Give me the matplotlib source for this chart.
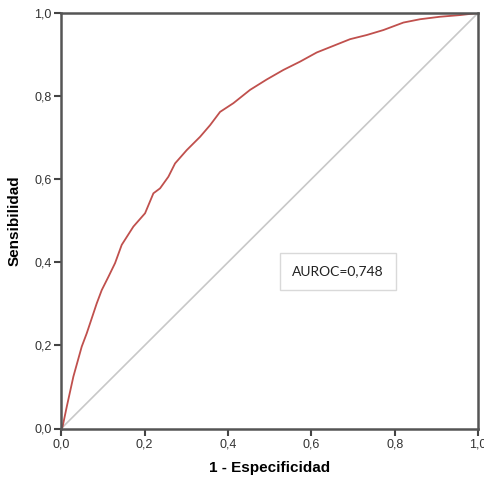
import numpy as np
import matplotlib.pyplot as plt

# ROC curve
fpr = [0.0, 0.003, 0.013, 0.029, 0.049, 0.061, 0.077, 0.085, 0.097, 0.113, 0.129,
       0.145, 0.173, 0.201, 0.221, 0.237, 0.257, 0.273, 0.301, 0.333, 0.357,
       0.381, 0.413, 0.453, 0.493, 0.533, 0.573, 0.613, 0.653, 0.693, 0.733,
       0.773, 0.805, 0.821, 0.861, 0.909, 0.957, 1.0]
tpr = [0.0, 0.004, 0.052, 0.125, 0.197, 0.229, 0.277, 0.301, 0.333, 0.365, 0.398,
       0.442, 0.486, 0.518, 0.566, 0.578, 0.606, 0.638, 0.670, 0.702, 0.730,
       0.762, 0.783, 0.815, 0.840, 0.863, 0.883, 0.905, 0.921, 0.937, 0.947,
       0.959, 0.971, 0.977, 0.985, 0.991, 0.995, 1.0]
ticks = [0.0, 0.2, 0.4, 0.6, 0.8, 1.0]
tick_labels = ['0,0', '0,2', '0,4', '0,6', '0,8', '1,0']
auroc_text = 'AUROC=0,748'

plt.rcParams['font.family'] = ['Liberation Sans', 'DejaVu Sans']

fig = plt.figure(figsize=(4.85, 4.79), dpi=100)
ax = fig.add_axes([61.3 / 485, 1 - 428.5 / 479, 416.7 / 485, 415.5 / 479])

ax.plot([0, 1], [0, 1], color='#c8c8c8', lw=1.2, zorder=1)
ax.plot(fpr, tpr, color='#c0504d', lw=1.3, zorder=2)

ax.set_xlim(0, 1)
ax.set_ylim(0, 1)
ax.set_xticks(ticks)
ax.set_xticklabels(tick_labels)
ax.set_yticks(ticks)
ax.set_yticklabels(tick_labels)
ax.tick_params(direction='out', length=5, width=1.5, color='#444444',
               labelsize=9, labelcolor='#333333', pad=2)

for s in ax.spines.values():
    s.set_color('#555555')
    s.set_linewidth(1.8)

ax.set_xlabel('1 - Especificidad', fontsize=11, fontweight='bold', labelpad=8)
ax.set_ylabel('Sensibilidad', fontsize=11, fontweight='bold', labelpad=9)

ax.text(0.664, 0.378, auroc_text, ha='center', va='center', fontsize=10,
        family=['Lato', 'DejaVu Sans'], color='#222222',
        bbox=dict(boxstyle='square,pad=0.9', fc='white', ec='#d9d9d9', lw=1))

fig.savefig('out.png', dpi=100)
